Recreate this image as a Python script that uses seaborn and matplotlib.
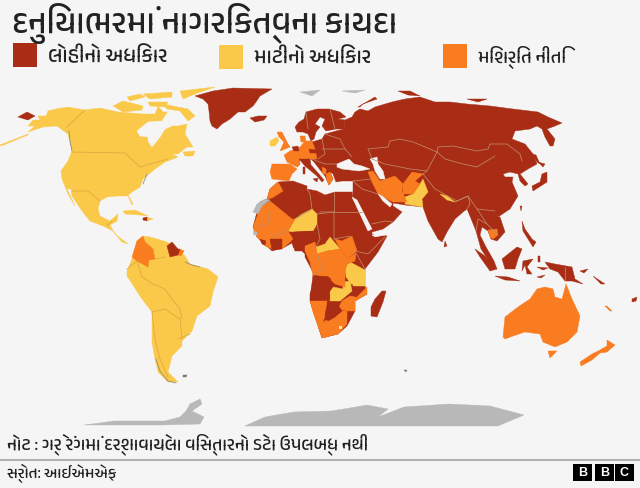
import matplotlib
matplotlib.use('Agg')
import matplotlib.pyplot as plt
import pandas as pd
import seaborn as sns

# text
title = 'દુનિયાભરમાં નાગરિકત્વના કાયદા'
legend_labels = ['લોહીનો અધિકાર', 'માટીનો અધિકાર', 'મિશ્રિત નીતિ']
legend_sizes = [15, 15, 13.5]
note = 'નોટ : ગ્રે રંગમાં દર્શાવાયેલા વિસ્તારનો ડેટા ઉપલબ્ધ નથી'
source = 'સ્રોત: આઈએમએફ'

# colours
bg = '#f5f5f5'
red = '#a82d14'
yellow = '#fac94a'
orange = '#f97c21'
grey = '#b8b8b8'
pale = '#fbe3a8'
speck = '#777777'

# outlines (map pixels)
# --- base land, red
greenland = [(195,97),(213,92),(233,89),(272,90),(260,97),(256,103),(253,107),(245,113),(238,113),(230,120),(222,125),(217,130),(212,127),(210,122),(209,112),(208,105),(203,100)]
iceland = [(250,119),(258,117),(267,117),(264,121),(255,123)]
chukotka = [(18,118),(27,113),(35,117),(28,121)]
africa = [(267,200),(270,190),(278,183),(293,182),(307,187),(307,190),(317,192),(325,196),(335,193),(352,193),(352,198),(372,230),(372,235),(387,237),(378,253),(365,270),(365,287),(367,295),(355,302),(355,312),(347,327),(338,335),(322,339),(318,327),(310,302),(310,295),(315,277),(305,258),(305,255),(302,252),(295,252),(292,244),(283,249),(272,252),(257,238),(253,228),(257,213),(260,203)]
madagascar = [(382,292),(386,292),(383,303),(377,318),(371,317),(371,308),(375,300)]
fennoscandia = [(295,128),(299,123),(304,120),(306,113),(317,110),(329,110),(340,113),(346,118),(338,120),(345,121),(344,130),(336,130),(326,132),(322,127),(325,120),(320,118),(315,125),(320,128),(316,133),(314,140),(311,142),(308,135),(303,133),(297,133)]
eurasia = [(306,143),(312,143),(322,140),(325,135),(336,132),(344,130),(345,121),(352,118),(355,113),(360,110),(368,112),(375,108),(392,103),(405,100),(420,98),(435,103),(450,103),(467,105),(490,107),(513,110),(538,113),(548,118),(562,124),(555,127),(547,130),(555,140),(553,147),(550,147),(545,138),(542,130),(537,127),(530,130),(515,132),(512,140),(525,145),(533,155),(537,165),(528,170),(520,175),(528,185),(525,187),(520,182),(518,175),(510,173),(503,175),(505,178),(513,178),(512,183),(518,197),(510,210),(498,218),(500,218),(505,233),(497,242),(491,240),(488,232),(482,228),(480,236),(486,248),(494,262),(497,270),(491,265),(481,250),(476,232),(472,222),(467,210),(463,213),(455,220),(447,233),(442,243),(438,240),(428,222),(423,208),(405,206),(393,204),(393,207),(402,213),(393,223),(383,230),(372,233),(357,201),(352,198),(353,192),(353,182),(342,182),(336,183),(333,175),(330,173),(333,180),(329,186),(325,177),(321,172),(314,163),(311,160),(299,160),(300,165),(297,168),(300,158),(305,143)]
italy = [(299,160),(310,160),(311,166),(318,174),(324,181),(322,183),(317,177),(305,167)]
sicily = [(313,180),(318,179),(317,183)]
sardinia = [(303,168),(305,168),(305,175),(303,175)]
sri_lanka = [(445,242),(447,247),(444,248)]
sumatra = [(475,250),(485,257),(497,270),(490,272),(480,258)]
java = [(495,277),(508,278),(520,282),(505,281)]
borneo = [(502,260),(517,248),(522,250),(518,260),(515,270),(505,270)]
sulawesi = [(523,262),(533,260),(527,268),(532,275),(527,275),(525,266),(522,272)]
new_guinea = [(545,263),(555,265),(572,268),(575,280),(583,285),(572,282),(565,282),(558,273),(550,270)]
new_britain = [(580,272),(588,270),(584,274)]
solomon = [(593,277),(605,285),(601,285)]
fiji = [(632,300),(637,298),(636,302),(632,303)]
philippines = [(522,222),(525,230),(532,240),(536,243),(533,248),(528,240),(523,232)]
honshu = [(547,173),(547,183),(533,192),(532,187),(540,183),(542,175)]
hokkaido = [(538,163),(545,165),(543,168)]
sakhalin = [(532,155),(536,156),(540,165),(537,163)]
novaya_zemlya = [(358,108),(375,98),(377,100),(363,105),(360,108)]
severnaya = [(398,92),(410,92),(420,97),(408,96)]
siberian_islands = [(467,100),(487,100),(478,103)]
taiwan = [(520,207),(522,207),(521,212)]
timor = [(537,278),(545,276),(541,279)]
seram = [(537,268),(548,269),(543,271)]
halmahera = [(538,257),(540,257),(540,263),(538,263)]
# --- yellow
north_america = [(28,127),(33,121),(40,121),(38,117),(46,117),(48,112),(56,110),(68,108),(85,111),(100,109),(118,113),(143,115),(155,115),(158,107),(163,113),(168,113),(168,123),(172,127),(178,127),(187,125),(185,135),(193,148),(187,148),(178,155),(172,155),(178,158),(165,163),(155,170),(143,180),(140,188),(132,193),(128,196),(133,205),(132,206),(128,197),(117,197),(107,198),(100,202),(98,210),(100,217),(110,222),(118,215),(117,222),(110,226),(115,235),(128,245),(122,243),(113,232),(103,227),(90,222),(82,212),(72,197),(71,190),(67,190),(75,207),(68,195),(62,180),(61,172),(68,162),(72,152),(68,135),(57,127),(43,128),(28,133),(35,127)]
baffin = [(163,105),(188,110),(195,117),(188,122),(180,112),(167,110)]
victoria = [(113,107),(123,102),(143,107),(142,111),(123,113)]
ellesmere = [(180,92),(215,88),(195,95),(183,100)]
devon = [(127,98),(140,95),(145,98),(130,102)]
melville = [(143,95),(172,93),(172,98),(150,100)]
somerset = [(148,103),(168,103),(165,108),(150,107)]
newfoundland = [(183,153),(195,152),(193,157),(185,157)]
cuba = [(123,212),(135,211),(148,217),(140,216),(125,215)]
dominican = [(147,218),(153,220),(147,222)]
aleutians = [(0,146),(28,135),(28,136),(1,147)]
south_america = [(127,272),(132,260),(137,242),(143,237),(150,238),(167,243),(178,250),(185,257),(190,265),(208,270),(218,278),(213,293),(210,307),(197,317),(192,332),(182,342),(182,347),(172,357),(168,373),(178,383),(168,383),(158,373),(155,360),(152,343),(152,313),(142,300),(127,277)]
niger = [(288,232),(295,220),(302,215),(312,210),(317,215),(317,225),(313,232),(305,232),(293,233)]
car = [(316,248),(325,245),(330,238),(340,250),(327,252),(317,255)]
tanzania = [(345,268),(350,263),(365,271),(365,287),(353,287),(346,278)]
zambia = [(333,288),(343,290),(343,283),(350,282),(352,292),(340,302),(330,302),(330,293)]
ireland = [(270,142),(277,138),(279,142),(275,147),(270,147)]
pakistan = [(405,198),(413,195),(420,185),(423,180),(428,193),(422,200),(423,208),(405,205)]
nepal = [(440,195),(447,197),(455,203),(447,201)]
# --- orange
colombia = [(132,258),(137,242),(143,237),(145,243),(153,250),(155,260),(149,261),(148,268),(137,262)]
french_guiana = [(180,250),(184,252),(181,257),(178,256)]
morocco = [(267,200),(270,190),(278,183),(283,192),(272,199)]
west_africa = [(253,228),(258,215),(262,207),(270,202),(292,220),(295,220),(288,232),(293,240),(290,243),(282,250),(282,240),(270,240),(272,250),(265,247),(257,238)]
south_sudan = [(335,240),(342,242),(352,237),(357,252),(347,260),(340,250)]
central_africa = [(305,252),(305,247),(315,243),(317,255),(327,252),(340,250),(347,260),(356,254),(355,262),(347,265),(345,273),(345,288),(335,285),(330,280),(328,277),(313,277),(310,263)]
namibia = [(310,302),(327,302),(326,313),(322,327),(318,327),(313,313)]
south_africa = [(318,327),(325,322),(335,318),(338,312),(347,312),(347,325),(338,335),(322,339)]
mozambique = [(350,297),(357,298),(367,288),(367,295),(355,302),(355,312),(347,312),(338,310),(342,302)]
spain = [(272,165),(290,165),(297,170),(292,175),(289,182),(272,180),(270,173)]
france_germany = [(284,156),(290,152),(300,148),(305,142),(312,142),(315,150),(317,160),(311,160),(299,160),(300,165),(297,168),(287,163)]
denmark = [(300,137),(305,137),(306,143),(301,143)]
uk = [(277,133),(282,133),(287,143),(290,148),(280,152),(284,143),(279,138)]
albania = [(322,168),(326,170),(326,175),(323,175)]
greece = [(326,175),(330,173),(333,180),(329,186),(327,182)]
iran = [(368,173),(373,172),(380,182),(395,177),(403,185),(402,192),(407,203),(393,203),(387,200),(378,195),(372,183)]
afghanistan = [(403,185),(412,173),(423,175),(415,182),(420,185),(413,195),(403,195)]
cambodia = [(488,231),(497,230),(498,236),(493,240),(490,238)]
australia = [(503,338),(505,318),(518,308),(530,300),(537,290),(545,288),(553,290),(555,298),(562,300),(566,285),(572,300),(580,317),(577,333),(567,343),(555,348),(543,343),(540,335),(525,333),(513,337),(505,340)]
tasmania = [(548,352),(557,352),(550,359)]
new_zealand = [(607,341),(615,346),(607,353),(600,354),(592,361),(581,367),(580,363),(592,355),(600,351),(607,347)]
new_caledonia = [(605,307),(607,307),(612,312),(610,312)]
# --- red countries sitting on the coloured blocks
guianas = [(167,247),(172,243),(178,250),(180,250),(178,256),(170,258)]
nigeria = [(293,233),(313,232),(305,245),(302,252),(293,248),(293,240)]
ivory_coast = [(270,240),(282,240),(282,250),(272,251)]
liberia = [(260,240),(266,242),(265,246),(262,245)]
angola = [(313,276),(330,279),(333,288),(329,292),(330,300),(310,300)]
botswana = [(328,303),(336,303),(342,312),(335,318),(328,322),(325,315)]
malawi = [(352,285),(355,295),(357,298),(354,297)]
haiti = [(143,219),(147,218),(147,222),(143,221)]
benelux = [(292,148),(298,147),(299,152),(294,152)]
czechia = [(309,150),(316,151),(317,154),(310,154)]
# --- grey
west_sahara = [(253,213),(257,205),(265,200),(270,201),(262,207),(258,215)]
gambia = [(253,232),(257,233),(257,236),(254,236)]
antarctic_peninsula = [(84,426),(100,424),(114,422),(147,422),(165,422),(180,418),(186,412),(190,405),(200,400),(202,405),(192,412),(204,418),(200,425),(163,426)]
antarctica = [(245,427),(265,418),(294,413),(331,412),(350,409),(367,406),(388,410),(378,418),(404,408),(449,405),(490,407),(524,416),(498,427)]
svalbard = [(300,93),(320,91),(312,97)]
franz_josef = [(342,92),(365,91),(355,94)]
falklands = [(183,376),(187,376),(186,378),(183,378)]
kerguelen = [(404,371),(407,371),(406,373)]

# water cut out of the land
hudson_bay = [(137,132),(148,123),(162,122),(168,113),(178,112),(175,117),(168,123),(172,127),(165,130),(160,138),(152,148),(148,142),(148,138),(140,137)]
black_sea = [(337,165),(344,162),(349,160),(354,165),(362,167),(370,170),(359,172),(342,170),(337,168)]
caspian = [(370,160),(377,158),(378,165),(383,172),(385,180),(380,180),(375,172),(373,165)]
persian_gulf = [(378,195),(382,197),(392,205),(390,208),(383,202)]
red_sea = [(352,198),(357,201),(372,230),(368,232)]
gulf_of_aden = [(372,236),(393,230),(385,236),(375,238)]

# country borders, by the colour of the land they cross
yellow_borders = {
    'alaska': [(85,111),(67,128)],
    'canada_us': [(72,153),(125,154),(140,168),(150,165),(168,160)],
    'us_mexico': [(72,192),(88,192),(100,202)],
    'guatemala': [(107,227),(112,222)],
    'guyana_brazil': [(155,260),(165,258)],
    'ecuador': [(127,270),(137,262)],
    'peru_brazil': [(137,262),(142,278),(153,285)],
    'bolivia_brazil': [(153,285),(165,290),(172,300),(180,310),(182,320)],
    'bolivia_south': [(152,313),(165,310),(172,315),(180,320),(182,340)],
    'chile': [(152,313),(155,340),(160,360),(168,378)],
    'uruguay': [(178,340),(190,335)],
}
red_borders = {
    'russia_south': [(368,150),(388,148),(390,142),(400,140),(413,143),(437,153),(438,148),(453,147),(477,152),(488,150),(490,145),(507,145),(520,155),(522,162)],
    'mongolia': [(437,153),(445,160),(463,165),(477,168),(495,157)],
    'china_west': [(437,153),(427,172),(423,175),(435,190),(457,202),(468,197),(477,210),(495,212)],
    'kazakh_south': [(368,150),(372,160),(385,165),(410,170),(427,172)],
    'india_east': [(455,203),(468,197),(470,205),(467,210)],
    'egypt': [(334,193),(334,213),(362,213)],
    'sudan': [(320,213),(334,213),(334,240),(350,237)],
    'algeria': [(295,220),(312,210),(310,195),(307,190)],
    'mali_mauritania': [(270,202),(268,225),(258,228)],
    'burkina': [(272,238),(288,232)],
    'libya_chad': [(317,215),(334,213)],
    'chad': [(317,225),(320,240),(316,248)],
    'arabia_south': [(372,225),(385,222),(393,223)],
    'arabia_iraq': [(353,182),(362,190),(378,195)],
    'ethiopia_kenya': [(355,252),(368,255),(385,238)],
    'uganda_kenya': [(356,254),(365,270)],
    'turkey': [(353,182),(372,180)],
    'europe_poland': [(322,140),(325,155),(318,160)],
    'ukraine': [(322,150),(345,150),(352,158)],
    'baltics': [(325,135),(340,140),(345,150)],
    'balkans': [(312,160),(325,165),(337,165)],
    'sweden_norway': [(306,113),(308,130)],
    'finland': [(330,110),(335,130)],
    'congo': [(317,255),(322,270),(313,277)],
    'laos': [(477,210),(487,225),(497,235)],
    'thailand': [(476,232),(478,220),(487,225)],
    'png': [(565,268),(565,282)],
}
dark_coasts = {
    'british_columbia': [(69,132),(70,142),(72,152)],
    'us_east': [(147,175),(143,185)],
    'amazon': [(185,263),(192,266),(200,268)],
    'south_chile': [(156,360),(160,372),(168,382),(176,384)],
}

sns.set_theme(style='white', rc={'figure.facecolor': bg, 'axes.facecolor': bg})
plt.rcParams['font.family'] = ['Anek Gujarati', 'DejaVu Sans']

fig, ax = plt.subplots(figsize=(6.4, 4.89), dpi=100)
ax.set_position([0, 0, 1, 1])

# order matters: continents first, countries on top, water last
layers = [
    (red, [greenland, iceland, chukotka, africa, madagascar, fennoscandia, eurasia, sicily, sardinia,
           sri_lanka, sumatra, java, borneo, sulawesi, new_guinea, new_britain, solomon, fiji,
           philippines, honshu, hokkaido, sakhalin, novaya_zemlya, severnaya, siberian_islands, taiwan,
           timor, seram, halmahera]),
    (yellow, [north_america, baffin, victoria, ellesmere, devon, melville, somerset, newfoundland, cuba,
              dominican, aleutians, south_america, niger, car, tanzania, zambia, ireland, pakistan, nepal]),
    (orange, [colombia, french_guiana, morocco, west_africa, south_sudan, central_africa, namibia,
              south_africa, mozambique, spain, france_germany, denmark, uk, albania, greece, iran,
              afghanistan, cambodia, australia, tasmania, new_zealand, new_caledonia]),
    (red, [guianas, nigeria, ivory_coast, liberia, angola, botswana, malawi, haiti, benelux, czechia, italy]),
    (grey, [west_sahara, gambia, antarctic_peninsula, antarctica, svalbard, franz_josef]),
    (speck, [falklands, kerguelen]),
    (bg, [hudson_bay, black_sea, caspian, persian_gulf, red_sea, gulf_of_aden]),
]
for colour, shapes in layers:
    for shape in shapes:
        xs, ys = zip(*shape)
        ax.fill(xs, ys, color=colour, lw=0.3, ec=colour)

ax.fill([339, 342, 342, 339], [327, 327, 330, 330], color=pale, lw=0)

rows = []
for kind, lines in [('yellow', yellow_borders), ('red', red_borders), ('coast', dark_coasts)]:
    for name, line in lines.items():
        rows += [(kind, name, x, y) for x, y in line]
borders = pd.DataFrame(rows, columns=['kind', 'border', 'x', 'y'])
sns.lineplot(data=borders, x='x', y='y', hue='kind', units='border', estimator=None, sort=False,
             palette={'yellow': '#dca63f', 'red': '#c0896a', 'coast': '#8a8a7a'},
             lw=0.55, legend=False, ax=ax)

# legend
ax.text(12, 23, title, fontsize=24, color='#222222', va='center')
for x0, y0, colour, label, size in zip([13, 219, 443], [44, 46, 45], [red, yellow, orange], legend_labels, legend_sizes):
    ax.fill([x0, x0 + 24, x0 + 24, x0], [y0, y0, y0 + 24, y0 + 24], color=colour, lw=0)
    ax.text(x0 + 35, y0 + 12, label, fontsize=size, color='#222222', va='center')

ax.text(7, 444, note, fontsize=12.8, color='#222222', va='center')
ax.plot([0, 640], [461, 461], color='#b0b0b0', lw=1.5)
ax.text(7, 473, source, fontsize=11.3, color='#222222', va='center')

for x0, letter in zip([573, 595, 615], 'BBC'):
    ax.fill([x0, x0 + 19, x0 + 19, x0], [465, 465, 482, 482], color='black', lw=0)
    ax.text(x0 + 9.5, 473.5, letter, fontsize=9, color='white', fontweight='bold',
            ha='center', va='center', family='Liberation Sans')

ax.set_xlim(0, 640)
ax.set_ylim(489, 0)
ax.set_xlabel('')
ax.set_ylabel('')
ax.set_axis_off()
plt.savefig('out.png', dpi=100, facecolor=bg)
